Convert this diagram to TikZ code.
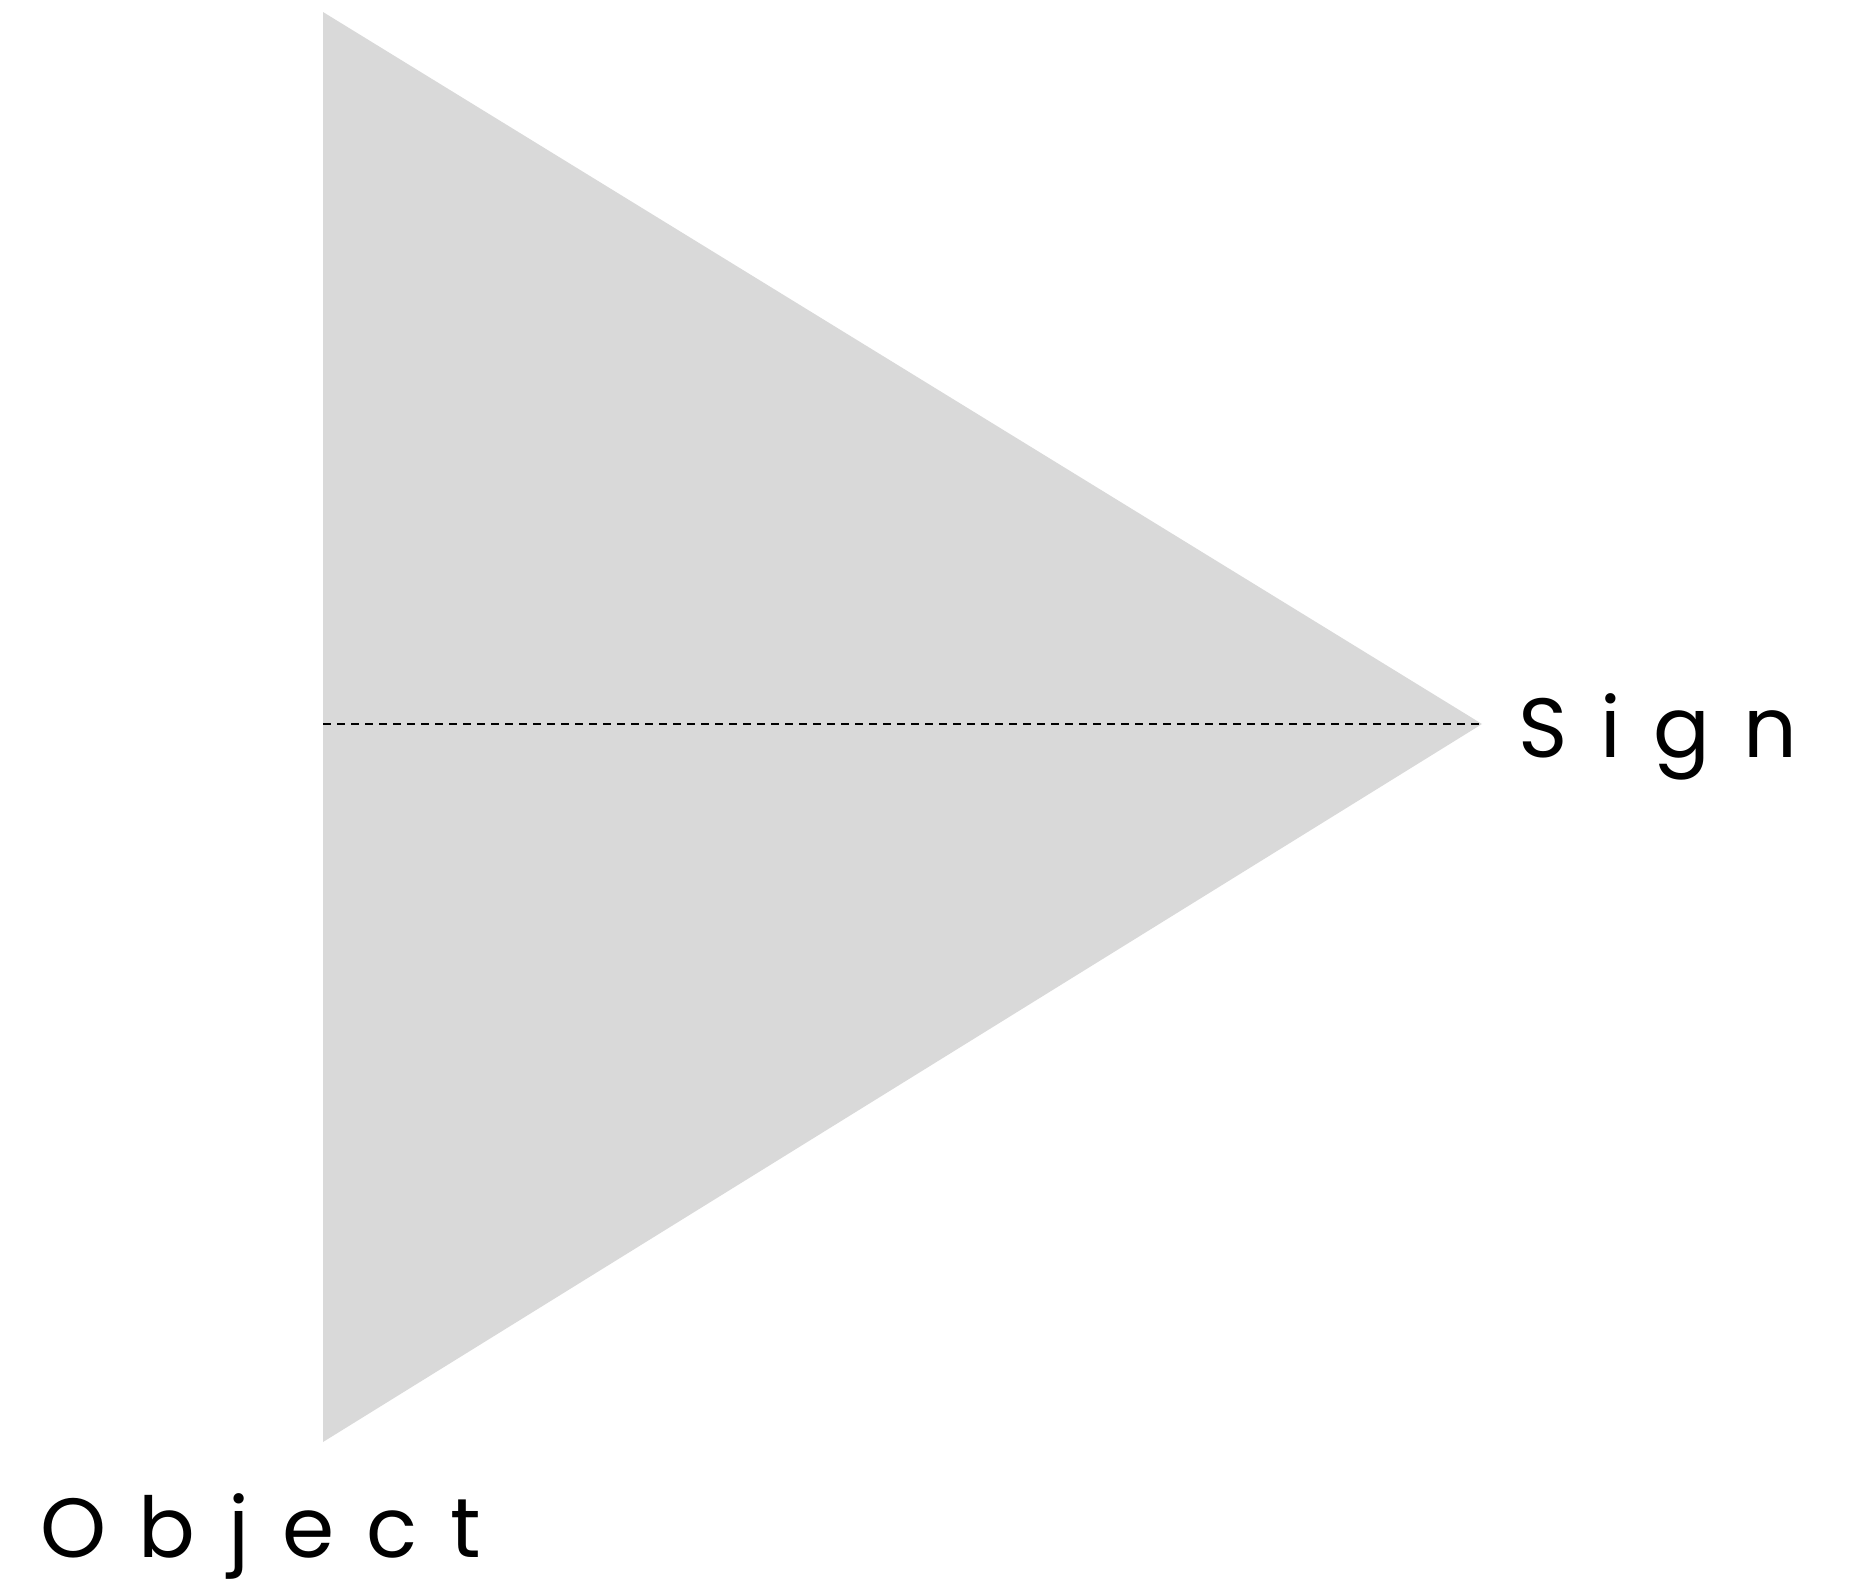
\documentclass[tikz,border=0pt]{standalone}
\usepackage{fontspec}
\setmainfont{Poppins}
\usepackage{xcolor}
\usetikzlibrary{positioning,calc}

\begin{document}
\begin{tikzpicture}[
    x=1pt,y=-1pt,
    every node/.style={inner sep=0pt,text=black},
    label/.style={anchor=base west,font=\fontsize{84}{88}\selectfont\addfontfeature{LetterSpace=39}}
  ]
  \definecolor{color1}{HTML}{d9d9d9}

  \useasboundingbox (0,0) rectangle (1871,1585);

  \coordinate (top)    at (323,12);
  \coordinate (bottom) at (323,1442);
  \coordinate (apex)   at (1482,724);
  \coordinate (mid)    at (323,724);

  \fill[color1] (top) -- (apex) -- (bottom) -- cycle;
  \draw[line width=2pt,dash pattern=on 8pt off 6pt] (mid) -- (apex);

  \node[label] at (1518,757)  (sign)   {Sign};
  \node[label] at (40,1557)   (object) {Object};
\end{tikzpicture}
\end{document}
